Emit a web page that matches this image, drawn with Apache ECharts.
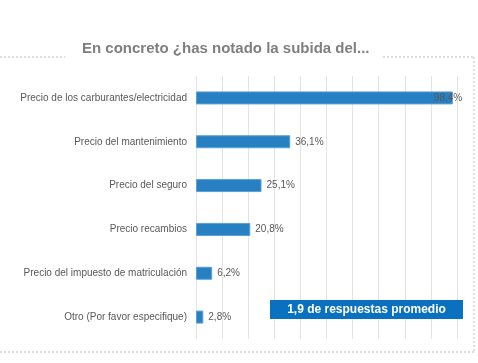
<!DOCTYPE html>
<html><head><meta charset="utf-8">
<script src="https://cdn.jsdelivr.net/npm/echarts@6/dist/echarts.min.js"></script>
<style>html,body{margin:0;padding:0;background:#fff}#c{width:478px;height:363px}</style>
</head><body><div id="c"></div>
<script>
var categories = ["Precio de los carburantes/electricidad","Precio del mantenimiento","Precio del seguro","Precio recambios","Precio del impuesto de matriculación","Otro (Por favor especifique)"];
var values = [98.4, 36.1, 25.1, 20.8, 6.2, 2.8];
var labels = ["98,4%","36,1%","25,1%","20,8%","6,2%","2,8%"];
var titleText = "En concreto ¿has notado la subida del...";
var noteText = "1,9 de respuestas promedio";

var chart = echarts.init(document.getElementById('c'));
var data = values.map(function(v,i){
  var d = {value:v};
  if (v > 90) d.label = {offset:[-24,0]};
  return d;
});
var dot = {stroke:'#bdbdbd', lineWidth:1, lineDash:[2,2]};
chart.setOption({
  animation:false,
  textStyle:{fontFamily:'Liberation Sans, Arial, sans-serif'},
  title:{text:titleText, left:82, top:41, padding:0,
    textStyle:{fontSize:15, fontWeight:'bold', color:'#7f7f7f', fontFamily:'Liberation Sans, Arial, sans-serif'}},
  grid:{left:196, right:21, top:76, bottom:24, containLabel:false},
  xAxis:{type:'value', min:0, max:100, interval:10,
    axisLabel:{show:false}, axisTick:{show:false}, axisLine:{show:false},
    splitLine:{show:true, lineStyle:{color:'#e3e3e3', width:1}}},
  yAxis:{type:'category', data:categories, inverse:true,
    axisLine:{show:false}, axisTick:{show:false},
    axisLabel:{color:'#595959', fontSize:10, margin:9}},
  series:[{type:'bar', data:data, barWidth:13,
    itemStyle:{color:'#2680c2', borderColor:'#5b9fd6', borderWidth:1},
    label:{show:true, position:'right', distance:5, color:'#595959', fontSize:10,
      formatter:function(p){return labels[p.dataIndex];}}}],
  graphic:[
    {type:'line', z:100, shape:{x1:0,y1:57,x2:65,y2:57}, style:dot},
    {type:'line', z:100, shape:{x1:383,y1:57,x2:474,y2:57}, style:dot},
    {type:'line', z:100, shape:{x1:474,y1:57,x2:474,y2:352}, style:dot},
    {type:'line', z:100, shape:{x1:0,y1:352,x2:474,y2:352}, style:dot},
    {type:'rect', z:100, shape:{x:270,y:300,width:193,height:19}, style:{fill:'#0a70c0'}},
    {type:'text', z:101, x:366.5, y:310, style:{text:noteText, fill:'#fff', fontSize:12, fontWeight:'bold',
      align:'center', verticalAlign:'middle', fontFamily:'Liberation Sans, Arial, sans-serif'}}
  ]
});
</script></body></html>
